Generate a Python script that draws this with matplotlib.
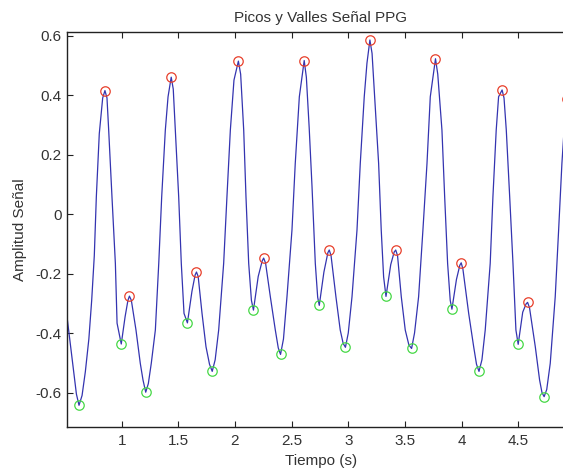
import matplotlib
matplotlib.use("Agg")
import matplotlib.pyplot as plt

plt.rcParams['font.family'] = ['Liberation Sans', 'DejaVu Sans']

# Signal samples (time in s, amplitude)
signal_t = [0.517, 0.600, 0.623, 0.650, 0.679, 0.710, 0.735, 0.758, 0.776, 0.802, 0.832, 0.852,
            0.870, 0.885, 0.914, 0.944, 0.959, 0.996, 1.030, 1.055, 1.068, 1.085,
            1.126, 1.164, 1.188, 1.212, 1.235, 1.261, 1.297, 1.327, 1.353, 1.385, 1.409, 1.437,
            1.455, 1.473, 1.503, 1.526, 1.550, 1.580, 1.620, 1.648, 1.660, 1.675,
            1.709, 1.744, 1.775, 1.799, 1.825, 1.856, 1.900, 1.929, 1.959, 1.991, 2.030,
            2.050, 2.077, 2.097, 2.121, 2.145, 2.163, 2.205, 2.240, 2.253, 2.270,
            2.312, 2.356, 2.382, 2.402, 2.428, 2.459, 2.503, 2.532, 2.568, 2.611,
            2.630, 2.655, 2.680, 2.709, 2.730, 2.744, 2.785, 2.820, 2.832, 2.848,
            2.891, 2.929, 2.955, 2.975, 3.000, 3.033, 3.077, 3.106, 3.141, 3.165, 3.191,
            3.210, 3.233, 3.268, 3.291, 3.312, 3.333, 3.375, 3.405, 3.419, 3.435,
            3.468, 3.503, 3.535, 3.559, 3.585, 3.621, 3.659, 3.695, 3.724, 3.770,
            3.790, 3.827, 3.851, 3.877, 3.900, 3.915, 3.955, 3.985, 3.997, 4.012,
            4.063, 4.107, 4.132, 4.154, 4.180, 4.209, 4.253, 4.277, 4.306, 4.327, 4.358,
            4.375, 4.395, 4.425, 4.454, 4.480, 4.500, 4.540, 4.570, 4.583, 4.600,
            4.651, 4.689, 4.710, 4.729, 4.752, 4.783, 4.827, 4.857, 4.886, 4.915, 4.935,
            4.955, 4.975, 5.000]
signal_v = [-0.345, -0.605, -0.643, -0.610, -0.530, -0.420, -0.290, -0.140, 0.058, 0.270, 0.390, 0.415,
            0.390, 0.282, 0.058, -0.166, -0.367, -0.437, -0.345, -0.290, -0.276, -0.290,
            -0.390, -0.502, -0.558, -0.599, -0.570, -0.502, -0.390, -0.166, 0.058, 0.282, 0.394, 0.460,
            0.420, 0.282, 0.058, -0.166, -0.334, -0.366, -0.260, -0.205, -0.195, -0.210,
            -0.334, -0.446, -0.505, -0.529, -0.490, -0.390, -0.166, 0.058, 0.282, 0.450, 0.514,
            0.470, 0.282, 0.058, -0.166, -0.290, -0.323, -0.210, -0.158, -0.148, -0.165,
            -0.278, -0.390, -0.450, -0.472, -0.420, -0.278, -0.054, 0.170, 0.394, 0.516,
            0.460, 0.290, 0.092, -0.166, -0.280, -0.307, -0.195, -0.130, -0.121, -0.140,
            -0.278, -0.390, -0.435, -0.448, -0.400, -0.278, -0.054, 0.170, 0.394, 0.507, 0.585,
            0.540, 0.394, 0.170, -0.054, -0.211, -0.277, -0.170, -0.128, -0.121, -0.140,
            -0.278, -0.390, -0.440, -0.452, -0.400, -0.278, -0.054, 0.170, 0.394, 0.522,
            0.470, 0.282, 0.058, -0.166, -0.290, -0.320, -0.220, -0.172, -0.164, -0.185,
            -0.334, -0.446, -0.505, -0.529, -0.490, -0.390, -0.166, 0.058, 0.282, 0.394, 0.417,
            0.390, 0.282, 0.058, -0.166, -0.390, -0.438, -0.330, -0.302, -0.297, -0.315,
            -0.446, -0.558, -0.600, -0.614, -0.590, -0.502, -0.278, -0.054, 0.170, 0.340, 0.385,
            0.350, 0.200, 0.000]

# Detected peaks and valleys
peak_t = [0.852, 1.068, 1.437, 1.660, 2.030, 2.253, 2.611, 2.832, 3.191, 3.419,
          3.770, 3.997, 4.358, 4.583, 4.935]
peak_v = [0.415, -0.276, 0.460, -0.195, 0.514, -0.148, 0.516, -0.121, 0.585, -0.121,
          0.522, -0.164, 0.417, -0.297, 0.385]
valley_t = [0.623, 0.996, 1.212, 1.580, 1.799, 2.163, 2.402, 2.744, 2.975, 3.333,
            3.559, 3.915, 4.154, 4.500, 4.729]
valley_v = [-0.643, -0.437, -0.599, -0.366, -0.529, -0.323, -0.472, -0.307, -0.448, -0.277,
            -0.452, -0.320, -0.529, -0.438, -0.614]

xticks = [1, 1.5, 2, 2.5, 3, 3.5, 4, 4.5]
xticklabels = ['1', '1.5', '2', '2.5', '3', '3.5', '4', '4.5']
yticks = [-0.6, -0.4, -0.2, 0, 0.2, 0.4, 0.6]
yticklabels = ['-0.6', '-0.4', '-0.2', '0', '0.2', '0.4', '0.6']

fig = plt.figure(figsize=(5.63, 4.72), dpi=100)
ax = fig.add_axes([0.119, 0.0953, 0.902, 0.837])

ax.plot(signal_t, signal_v, color='#3434b0', lw=0.9, zorder=2)
ax.plot(peak_t, peak_v, 'o', mfc='none', mec='#e8402c', ms=6.8, mew=0.9, zorder=3)
ax.plot(valley_t, valley_v, 'o', mfc='none', mec='#46d846', ms=6.8, mew=0.9, zorder=3)

ax.set_xlim(0.517, 5.0)
ax.set_ylim(-0.716, 0.612)
ax.set_xticks(xticks)
ax.set_xticklabels(xticklabels)
ax.set_yticks(yticks)
ax.set_yticklabels(yticklabels)

txtc = '#333333'
ax.tick_params(direction='in', length=4, width=0.8, top=True, right=True,
               labelsize=11, labelcolor=txtc, color='#222222')
ax.tick_params(axis='x', pad=5)
ax.tick_params(axis='y', pad=4)
for s in ax.spines.values():
    s.set_linewidth(1.0)
    s.set_color('#222222')

ax.set_title('Picos y Valles Señal PPG', fontsize=11, color=txtc, pad=7)
ax.set_xlabel('Tiempo (s)', fontsize=11, color=txtc, labelpad=4)
ax.set_ylabel('Amplitud Señal', fontsize=11, color=txtc, labelpad=6)

fig.savefig('out.png', dpi=100)
